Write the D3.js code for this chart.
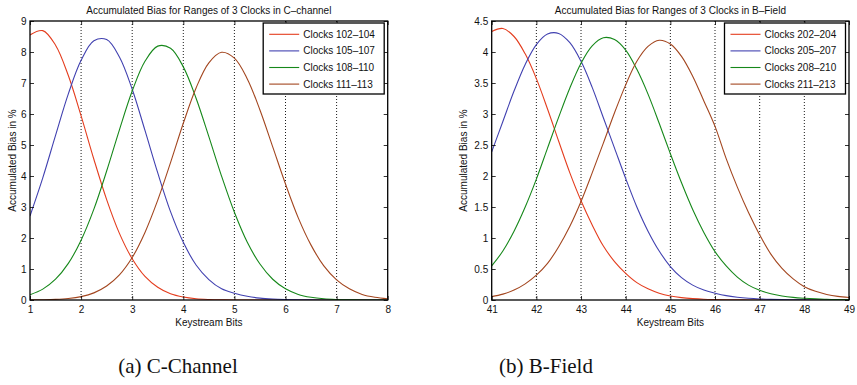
<!DOCTYPE html>
<html>
<head>
<meta charset="utf-8">
<script src="https://cdn.jsdelivr.net/npm/d3@7"></script>
<style>
  body { margin: 0; background: #fff; }
  svg { display: block; font-family: 'Liberation Sans', Arial, sans-serif; }
</style>
</head>
<body>
<div id="chart"></div>
<script>
// keystream bit positions the curves were read at
const bitsC = [1, 1.25, 1.5, 1.75, 2, 2.25, 2.5, 2.75, 3, 3.25, 3.5, 3.75, 4, 4.25, 4.5, 4.75,
  5, 5.25, 5.5, 5.75, 6, 6.25, 6.5, 6.75, 7, 7.25, 7.5, 7.75, 8]
const bitsB = [41, 41.25, 41.5, 41.75, 42, 42.25, 42.5, 42.75, 43, 43.25, 43.5, 43.75, 44, 44.25,
  44.5, 44.75, 45, 45.25, 45.5, 45.75, 46, 46.25, 46.5, 46.75, 47, 47.25, 47.5, 47.75, 48, 48.25,
  48.5, 48.75, 49]

// C-channel, accumulated bias in %
const clocks102 = [8.55, 8.69, 8.22, 7.24, 5.94, 4.54, 3.24, 2.15, 1.33, 0.76, 0.41, 0.20, 0.095,
  0.041, 0.017, 0.006, 0.002, 0.001, 0, 0, 0, 0, 0, 0, 0, 0, 0, 0, 0]
const clocks105 = [2.71, 3.94, 5.31, 6.65, 7.73, 8.36, 8.40, 7.84, 6.80, 5.47, 4.10, 2.85, 1.86,
  1.13, 0.66, 0.36, 0.22, 0.12, 0.06, 0.03, 0.015, 0.007, 0.003, 0.001, 0, 0, 0, 0, 0]
const clocks108 = [0.17, 0.35, 0.67, 1.18, 1.93, 2.93, 4.16, 5.49, 6.74, 7.70, 8.19, 8.12, 7.52,
  6.51, 5.27, 3.99, 2.83, 1.87, 1.16, 0.67, 0.36, 0.18, 0.087, 0.038, 0.016, 0.006, 0.002, 0.001, 0]
const clocks111 = [0.003, 0.008, 0.02, 0.049, 0.11, 0.23, 0.45, 0.81, 1.37, 2.18, 3.22, 4.43, 5.70,
  6.84, 7.65, 7.99, 7.80, 7.14, 6.13, 4.94, 3.74, 2.65, 1.77, 1.10, 0.65, 0.36, 0.18, 0.089, 0.04]

// B-field, accumulated bias in %
const clocks202 = [4.33, 4.38, 4.25, 3.97, 3.57, 3.08, 2.56, 2.05, 1.60, 1.21, 0.87, 0.62, 0.43,
  0.28, 0.18, 0.11, 0.065, 0.038, 0.022, 0.012, 0.007, 0.004, 0.002, 0.001, 0.001, 0, 0, 0, 0, 0,
  0, 0, 0]
const clocks205 = [2.39, 2.88, 3.37, 3.80, 4.12, 4.29, 4.30, 4.15, 3.85, 3.43, 2.94, 2.45, 1.96,
  1.50, 1.11, 0.79, 0.54, 0.36, 0.24, 0.16, 0.11, 0.07, 0.045, 0.028, 0.017, 0.01, 0.006, 0.004,
  0.002, 0.001, 0.001, 0, 0]
const clocks208 = [0.55, 0.79, 1.11, 1.50, 1.95, 2.45, 2.95, 3.42, 3.82, 4.10, 4.23, 4.20, 4.03,
  3.72, 3.32, 2.85, 2.36, 1.89, 1.46, 1.09, 0.78, 0.55, 0.37, 0.24, 0.156, 0.10, 0.065, 0.042,
  0.028, 0.018, 0.011, 0.007, 0.004]
const clocks211 = [0.054, 0.095, 0.16, 0.26, 0.40, 0.59, 0.86, 1.19, 1.59, 2.05, 2.53, 3.02, 3.47,
  3.85, 4.09, 4.19, 4.13, 3.93, 3.61, 3.21, 2.80, 2.28, 1.82, 1.41, 1.05, 0.74, 0.51, 0.34, 0.215,
  0.14, 0.09, 0.058, 0.04]

const labelsC = ['Clocks 102–104', 'Clocks 105–107', 'Clocks 108–110', 'Clocks 111–113']
const labelsB = ['Clocks 202–204', 'Clocks 205–207', 'Clocks 208–210', 'Clocks 211–213']

const ticksXC = [1, 2, 3, 4, 5, 6, 7, 8]
const ticksYC = [0, 1, 2, 3, 4, 5, 6, 7, 8, 9]
const ticksXB = [41, 42, 43, 44, 45, 46, 47, 48, 49]
const ticksYB = [0, 0.5, 1, 1.5, 2, 2.5, 3, 3.5, 4, 4.5]

const colors = ['#e43d1e', '#4141b0', '#16881a', '#a3461f']

const width = 857
const height = 385

const svg = d3.select('#chart')
.append('svg')
.attr('width', width)
.attr('height', height)

const fmt = d3.format('~g')

const drawPanel = (p) => {
  const x = d3.scaleLinear()
  .domain(d3.extent(p.xTicks))
  .range([p.left, p.right])
  const y = d3.scaleLinear()
  .domain(d3.extent(p.yTicks))
  .range([p.bottom, p.top])

  const g = svg.append('g')

  g.append('clipPath')
    .attr('id', p.id)
    .append('rect')
    .attr('x', p.left)
    .attr('y', p.top)
    .attr('width', p.right - p.left)
    .attr('height', p.bottom - p.top)

  // dotted grid at the inner x ticks
  g.append('g')
    .selectAll('line')
    .data(p.xTicks.slice(1, -1))
    .join('line')
    .attr('x1', d => x(d))
    .attr('x2', d => x(d))
    .attr('y1', p.top)
    .attr('y2', p.bottom)
    .attr('stroke', '#000')
    .attr('stroke-width', 0.9)
    .attr('stroke-dasharray', '1,2')

  const line = d3.line()
  .x((d, i) => x(p.xs[i]))
  .y(d => y(d))
  .curve(d3.curveCatmullRom)

  g.append('g')
    .attr('clip-path', `url(#${p.id})`)
    .selectAll('path')
    .data(p.series)
    .join('path')
    .attr('fill', 'none')
    .attr('stroke', (d, i) => colors[i])
    .attr('stroke-width', 1.1)
    .attr('d', d => line(d))

  // matlab style axes, ticks pointing inwards on all four sides
  const axes = [
    [d3.axisBottom(x).tickValues(p.xTicks).tickFormat(fmt).tickPadding(6), `translate(0,${p.bottom})`],
    [d3.axisLeft(y).tickValues(p.yTicks).tickFormat(fmt).tickPadding(3.5), `translate(${p.left},0)`],
    [d3.axisTop(x).tickValues(p.xTicks).tickFormat(''), `translate(0,${p.top})`],
    [d3.axisRight(y).tickValues(p.yTicks).tickFormat(''), `translate(${p.right},0)`]
  ]
  axes.forEach(([axis, t]) => {
    const a = g.append('g')
      .attr('transform', t)
      .call(axis.tickSizeInner(-4).tickSizeOuter(0))
    a.select('.domain').remove()
    a.selectAll('line').attr('stroke', '#000').attr('stroke-width', 0.8)
    a.selectAll('text')
      .attr('fill', '#111')
      .style('font-size', '10px')
      .style('font-family', "'Liberation Sans', Arial, sans-serif")
  })

  g.append('rect')
    .attr('x', p.left)
    .attr('y', p.top)
    .attr('width', p.right - p.left)
    .attr('height', p.bottom - p.top)
    .attr('fill', 'none')
    .attr('stroke', '#000')
    .attr('stroke-width', 1.3)

  const mid = (p.left + p.right) / 2

  g.append('text')
    .attr('x', mid)
    .attr('y', 14)
    .attr('text-anchor', 'middle')
    .attr('font-size', 10)
    .attr('fill', '#111')
    .text(p.title)

  g.append('text')
    .attr('x', mid)
    .attr('y', 325.5)
    .attr('text-anchor', 'middle')
    .attr('font-size', 10)
    .attr('fill', '#111')
    .text('Keystream Bits')

  g.append('text')
    .attr('transform', `translate(${p.yLabelX},${(p.top + p.bottom) / 2}) rotate(-90)`)
    .attr('text-anchor', 'middle')
    .attr('font-size', 10)
    .attr('fill', '#111')
    .text('Accumulated Bias in %')

  // legend
  const lw = 121
  const lx = p.right - 3.5 - lw
  const ly = p.top + 2
  const leg = g.append('g')
  leg.append('rect')
    .attr('x', lx)
    .attr('y', ly)
    .attr('width', lw)
    .attr('height', 71)
    .attr('fill', '#fff')
    .attr('stroke', '#000')
    .attr('stroke-width', 1.3)
  const rows = leg.selectAll('g')
    .data(p.labels)
    .join('g')
    .attr('transform', (d, i) => `translate(${lx},${ly + 11.3 + i * 16.6})`)
  rows.append('line')
    .attr('x1', 6)
    .attr('x2', 36)
    .attr('stroke', (d, i) => colors[i])
    .attr('stroke-width', 1.1)
  rows.append('text')
    .attr('x', 40)
    .attr('dy', '0.35em')
    .attr('font-size', 10)
    .attr('fill', '#111')
    .text(d => d)

  svg.append('text')
    .attr('x', p.captionX)
    .attr('y', 373)
    .attr('text-anchor', 'middle')
    .style('font-family', "'Liberation Serif', 'Times New Roman', serif")
    .style('font-size', '21px')
    .attr('fill', '#111')
    .text(p.caption)
}

drawPanel({
  id: 'clipC',
  left: 30, right: 387.7, top: 21, bottom: 300,
  yLabelX: 16,
  xs: bitsC,
  series: [clocks102, clocks105, clocks108, clocks111],
  labels: labelsC,
  xTicks: ticksXC,
  yTicks: ticksYC,
  title: 'Accumulated Bias for Ranges of 3 Clocks in C–channel',
  caption: '(a) C-Channel',
  captionX: 178
})

drawPanel({
  id: 'clipB',
  left: 491.7, right: 849, top: 21, bottom: 300,
  yLabelX: 467,
  xs: bitsB,
  series: [clocks202, clocks205, clocks208, clocks211],
  labels: labelsB,
  xTicks: ticksXB,
  yTicks: ticksYB,
  title: 'Accumulated Bias for Ranges of 3 Clocks in B–Field',
  caption: '(b) B-Field',
  captionX: 546
})
</script>
</body>
</html>
